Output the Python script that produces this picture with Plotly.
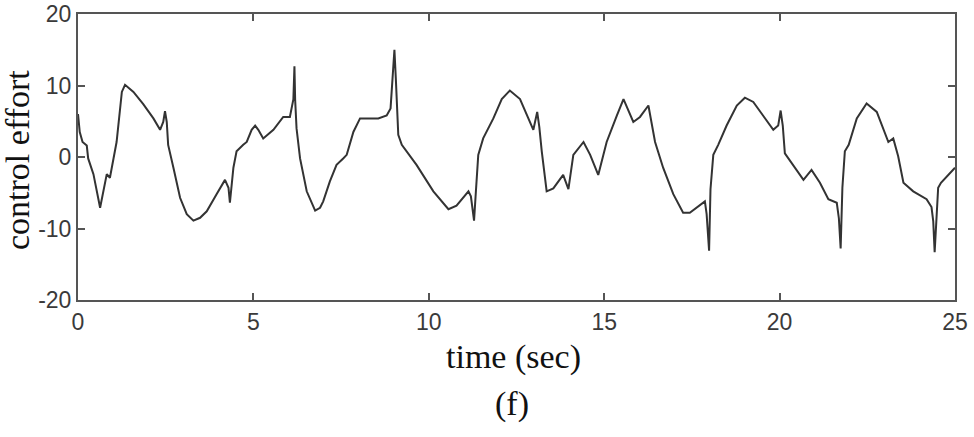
import plotly.graph_objects as go

time_s = [0.00, 0.05, 0.13, 0.25, 0.29, 0.44, 0.63, 0.72, 0.82, 0.91, 1.10, 1.25, 1.34, 1.58, 1.86,
          2.15, 2.34, 2.43, 2.48, 2.53, 2.57, 2.72, 2.91, 3.10, 3.29, 3.48, 3.67, 3.95, 4.19, 4.29,
          4.33, 4.43, 4.52, 4.71, 4.81, 4.95, 5.05, 5.14, 5.28, 5.57, 5.85, 6.04, 6.14, 6.17, 6.19,
          6.23, 6.33, 6.52, 6.76, 6.90, 6.99, 7.18, 7.37, 7.56, 7.66, 7.85, 8.04, 8.56, 8.80, 8.91,
          8.97, 9.02, 9.06, 9.13, 9.23, 9.65, 10.13, 10.56, 10.79, 11.13, 11.20, 11.29, 11.34, 11.41,
          11.55, 11.84, 12.08, 12.31, 12.60, 12.98, 13.09, 13.15, 13.22, 13.36, 13.55, 13.83, 13.98,
          14.12, 14.41, 14.60, 14.83, 15.07, 15.36, 15.55, 15.83, 16.02, 16.26, 16.45, 16.68, 16.97,
          17.25, 17.44, 17.87, 17.92, 17.99, 18.03, 18.11, 18.25, 18.49, 18.78, 19.01, 19.25, 19.82,
          19.96, 20.03, 20.09, 20.15, 20.39, 20.68, 20.91, 21.15, 21.39, 21.63, 21.69, 21.74, 21.79,
          21.86, 21.97, 22.20, 22.48, 22.77, 23.10, 23.24, 23.38, 23.53, 23.81, 24.19, 24.33, 24.38,
          24.42, 24.47, 24.52, 24.60, 25.00]
control_effort = [6.0, 3.5, 2.1, 1.6, -0.2, -2.4, -7.1, -4.8, -2.4, -2.9, 2.1, 9.1, 10.1, 9.1, 7.4,
                  5.4, 3.8, 4.9, 6.4, 4.9, 1.7, -1.5, -5.7, -8.0, -8.9, -8.5, -7.6, -5.2, -3.2, -4.3,
                  -6.4, -1.5, 0.8, 1.7, 2.1, 3.8, 4.4, 3.8, 2.6, 3.8, 5.6, 5.6, 8.1, 12.7, 8.0,
                  4.0, -0.2, -4.8, -7.5, -7.1, -6.2, -3.4, -1.1, -0.2, 0.3, 3.5, 5.4, 5.4, 5.8, 6.8,
                  11.0, 15.0, 11.0, 3.1, 1.7, -1.1, -4.8, -7.3, -6.8, -4.8, -5.5, -8.9, -5.0, 0.3,
                  2.6, 5.4, 8.1, 9.3, 8.1, 3.8, 6.3, 4.2, 0.8, -4.8, -4.4, -2.5, -4.5,
                  0.3, 2.1, 0.3, -2.5, 2.1, 5.8, 8.1, 4.9, 5.6, 7.2, 2.1, -1.5, -5.2,
                  -7.8, -7.8, -6.2, -8.0, -13.1, -4.5, 0.3, 1.7, 4.4, 7.2, 8.3, 7.7, 3.8,
                  4.4, 6.5, 4.4, 0.5, -1.1, -3.2, -1.8, -3.6, -5.9, -6.4, -8.6, -12.8, -4.3,
                  0.8, 1.7, 5.4, 7.5, 6.3, 2.1, 2.6, 0.1, -3.6, -4.8, -5.9, -7.0, -9.0,
                  -13.3, -8.7, -4.3, -3.6, -1.5]

x_ticks = [0, 5, 10, 15, 20, 25]
x_tick_text = ["0", "5", "10", "15", "20", "25"]
y_ticks = [-20, -10, 0, 10, 20]
y_tick_text = ["-20", "-10", "0", "10", "20"]

fig = go.Figure()
fig.add_trace(go.Scatter(x=time_s, y=control_effort, mode="lines",
                         line=dict(color="#333333", width=2), showlegend=False))

axis_common = dict(showline=True, linecolor="#555555", linewidth=2, mirror="ticks",
                   ticks="inside", ticklen=7, tickwidth=2, tickcolor="#555555",
                   showgrid=False, zeroline=False, ticklabeloverflow="allow",
                   automargin=False,
                   tickfont=dict(family="Liberation Sans", size=23, color="#3a3a3a"))

fig.update_xaxes(range=[0, 25], tickvals=x_ticks, ticktext=x_tick_text, **axis_common)
fig.update_yaxes(range=[-20, 20], tickvals=y_ticks, ticktext=y_tick_text, **axis_common)

serif = dict(family="Liberation Serif", size=34, color="#111111")
fig.update_layout(
    width=974, height=437,
    margin=dict(l=78, r=19, t=14, b=137, autoexpand=False),
    paper_bgcolor="white", plot_bgcolor="white",
    annotations=[
        dict(text="time (sec)", xref="paper", yref="paper", x=0.5, y=0,
             xanchor="center", yanchor="middle", xshift=-3, yshift=-57,
             showarrow=False, font=serif),
        dict(text="(f)", xref="paper", yref="paper", x=0.5, y=0,
             xanchor="center", yanchor="middle", xshift=-5, yshift=-104,
             showarrow=False, font=serif),
        dict(text="control effort", xref="paper", yref="paper", x=0, y=0.5,
             xanchor="center", yanchor="middle", xshift=-61, yshift=-3,
             textangle=-90, showarrow=False, font=serif),
    ],
)

fig.write_html("out.html")
